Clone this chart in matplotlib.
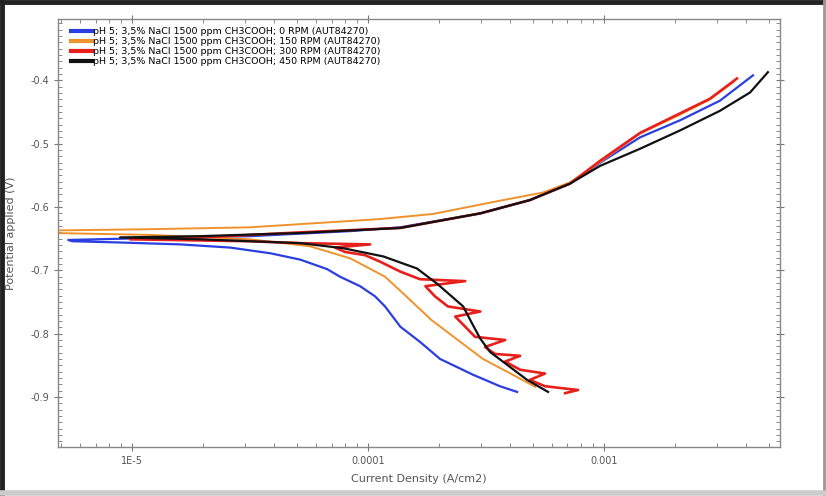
import matplotlib
matplotlib.use('Agg')
import matplotlib.pyplot as plt
from matplotlib.ticker import FixedLocator, FixedFormatter, MultipleLocator, LogLocator, NullFormatter
from matplotlib.lines import Line2D

# Tafel curves: current density (A/cm2) and potential (V), cathodic end -> Ecorr -> anodic end
labels = [
    'pH 5; 3,5% NaCl 1500 ppm CH3COOH; 0 RPM (AUT84270)',
    'pH 5; 3,5% NaCl 1500 ppm CH3COOH; 150 RPM (AUT84270)',
    'pH 5; 3,5% NaCl 1500 ppm CH3COOH; 300 RPM (AUT84270)',
    'pH 5; 3,5% NaCl 1500 ppm CH3COOH; 450 RPM (AUT84270)',
]
colors = ['#2b3fe0', '#f0922b', '#e8201c', '#111111']

i_0rpm = [4.28e-4, 3.62e-4, 2.79e-4, 2.02e-4, 1.66e-4, 1.37e-4, 1.18e-4, 1.07e-4, 9.25e-5, 7.60e-5,
          6.70e-5, 5.15e-5, 3.85e-5, 2.60e-5, 1.60e-5, 8.89e-6, 5.57e-6, 5.36e-6,
          1.19e-5, 3.16e-5, 8.39e-5, 1.37e-4, 2.99e-4, 4.85e-4, 7.18e-4, 9.62e-4, 1.42e-3, 2.10e-3,
          3.10e-3, 4.28e-3]
e_0rpm = [-0.892, -0.883, -0.865, -0.840, -0.813, -0.789, -0.757, -0.741, -0.725, -0.710,
          -0.698, -0.683, -0.673, -0.664, -0.659, -0.656, -0.654, -0.652,
          -0.649, -0.646, -0.638, -0.632, -0.610, -0.589, -0.562, -0.530, -0.490, -0.463,
          -0.432, -0.392]

i_150rpm = [5.11e-4, 3.88e-4, 3.07e-4, 2.16e-4, 1.85e-4, 1.48e-4, 1.18e-4, 8.39e-5, 5.68e-5, 3.16e-5,
            1.19e-5, 4.6e-6, 4.6e-6,
            1.19e-5, 3.16e-5, 5.15e-5, 1.12e-4, 1.88e-4, 3.62e-4, 5.52e-4, 7.18e-4, 9.62e-4, 1.42e-3,
            2.10e-3, 2.81e-3, 3.52e-3]
e_150rpm = [-0.884, -0.860, -0.840, -0.797, -0.778, -0.744, -0.710, -0.681, -0.662, -0.651,
            -0.644, -0.641, -0.637,
            -0.635, -0.632, -0.627, -0.619, -0.611, -0.590, -0.577, -0.561, -0.529, -0.484,
            -0.454, -0.430, -0.403]

i_300rpm = [6.84e-4, 7.76e-4, 5.62e-4, 4.85e-4, 5.62e-4, 4.41e-4, 3.81e-4, 4.41e-4, 3.45e-4, 3.13e-4,
            3.81e-4, 2.84e-4, 2.58e-4, 2.34e-4, 2.99e-4, 2.18e-4, 1.92e-4, 1.75e-4, 2.58e-4, 1.66e-4,
            1.37e-4, 1.12e-4, 9.71e-5, 8.00e-5, 7.24e-5, 1.02e-4, 5.15e-5, 3.16e-5, 9.8e-6,
            1.94e-5, 5.15e-5, 1.37e-4, 2.99e-4, 4.85e-4, 7.18e-4, 9.62e-4, 1.42e-3, 2.10e-3, 2.81e-3,
            3.66e-3]
e_300rpm = [-0.894, -0.889, -0.883, -0.873, -0.863, -0.857, -0.844, -0.835, -0.832, -0.821,
            -0.810, -0.805, -0.789, -0.773, -0.765, -0.757, -0.741, -0.725, -0.717, -0.714,
            -0.702, -0.686, -0.676, -0.671, -0.664, -0.659, -0.657, -0.654, -0.651,
            -0.648, -0.640, -0.633, -0.610, -0.589, -0.563, -0.527, -0.483, -0.452, -0.429,
            -0.397]

i_450rpm = [5.79e-4, 4.72e-4, 3.88e-4, 3.29e-4, 2.99e-4, 2.76e-4, 2.53e-4, 1.96e-4, 1.61e-4, 1.16e-4,
            7.83e-5, 5.15e-5, 1.94e-5, 8.89e-6,
            1.94e-5, 5.15e-5, 1.37e-4, 2.99e-4, 4.85e-4, 7.18e-4, 9.62e-4, 1.42e-3, 2.10e-3, 3.10e-3,
            4.16e-3, 4.95e-3]
e_450rpm = [-0.892, -0.873, -0.849, -0.829, -0.808, -0.784, -0.757, -0.721, -0.697, -0.678,
            -0.665, -0.657, -0.651, -0.648,
            -0.646, -0.641, -0.633, -0.610, -0.589, -0.563, -0.535, -0.508, -0.479, -0.448,
            -0.419, -0.387]

x_ticks = [1e-5, 1e-4, 1e-3]
x_ticklabels = ['1E-5', '0.0001', '0.001']
y_ticks = [-0.9, -0.8, -0.7, -0.6, -0.5, -0.4]


def main():
    fig = plt.figure(figsize=(8.26, 4.96), dpi=100)
    ax = fig.add_axes([58 / 826, 1 - 447 / 496, (780 - 58) / 826, (447 - 19) / 496])

    series = [(i_0rpm, e_0rpm), (i_150rpm, e_150rpm), (i_300rpm, e_300rpm), (i_450rpm, e_450rpm)]
    widths = [1.6, 1.4, 1.9, 1.6]
    for (i, e), c, lab, lw in zip(series, colors, labels, widths):
        ax.plot(i, e, color=c, lw=lw, label=lab, solid_joinstyle='round')

    ax.set_xscale('log')
    ax.set_xlim(4.85e-6, 5.57e-3)
    ax.set_ylim(-0.979, -0.303)

    ax.xaxis.set_major_locator(FixedLocator(x_ticks))
    ax.xaxis.set_major_formatter(FixedFormatter(x_ticklabels))
    ax.xaxis.set_minor_locator(LogLocator(base=10, subs=range(2, 10)))
    ax.xaxis.set_minor_formatter(NullFormatter())
    ax.yaxis.set_major_locator(FixedLocator(y_ticks))
    ax.yaxis.set_minor_locator(MultipleLocator(0.01))
    ax.yaxis.set_major_formatter(plt.FormatStrFormatter('%.1f'))

    ax.tick_params(which='both', top=True, right=True, colors='#777777', labelcolor='#555555', labelsize=7)
    ax.tick_params(which='major', direction='inout', length=6, width=0.8)
    ax.tick_params(which='minor', direction='in', length=3, width=0.6)
    for s in ax.spines.values():
        s.set_color('#888888')
        s.set_linewidth(1.0)

    ax.set_xlabel('Current Density (A/cm2)', fontsize=8, color='#555555', labelpad=6)
    ax.set_ylabel('Potential applied (V)', fontsize=8, color='#555555', labelpad=10)

    leg = ax.legend(loc='upper left', bbox_to_anchor=(0.01, 0.995), frameon=False, fontsize=6.8,
                    handlelength=2.2, handletextpad=0.1, labelspacing=0.12, borderaxespad=0.2)
    for h in leg.get_lines():
        h.set_linewidth(3)

    # outer frame of the screenshot
    fig.add_artist(Line2D([0.002, 0.002], [0, 1], color='#222222', lw=3.5, transform=fig.transFigure))
    fig.add_artist(Line2D([0, 1], [0.995, 0.995], color='#222222', lw=3.5, transform=fig.transFigure))
    fig.add_artist(Line2D([0.998, 0.998], [0, 1], color='#999999', lw=2, transform=fig.transFigure))
    fig.add_artist(Line2D([0, 1], [0.006, 0.006], color='#cccccc', lw=4, transform=fig.transFigure))

    plt.savefig('out.png', dpi=100)


if __name__ == '__main__':
    main()
